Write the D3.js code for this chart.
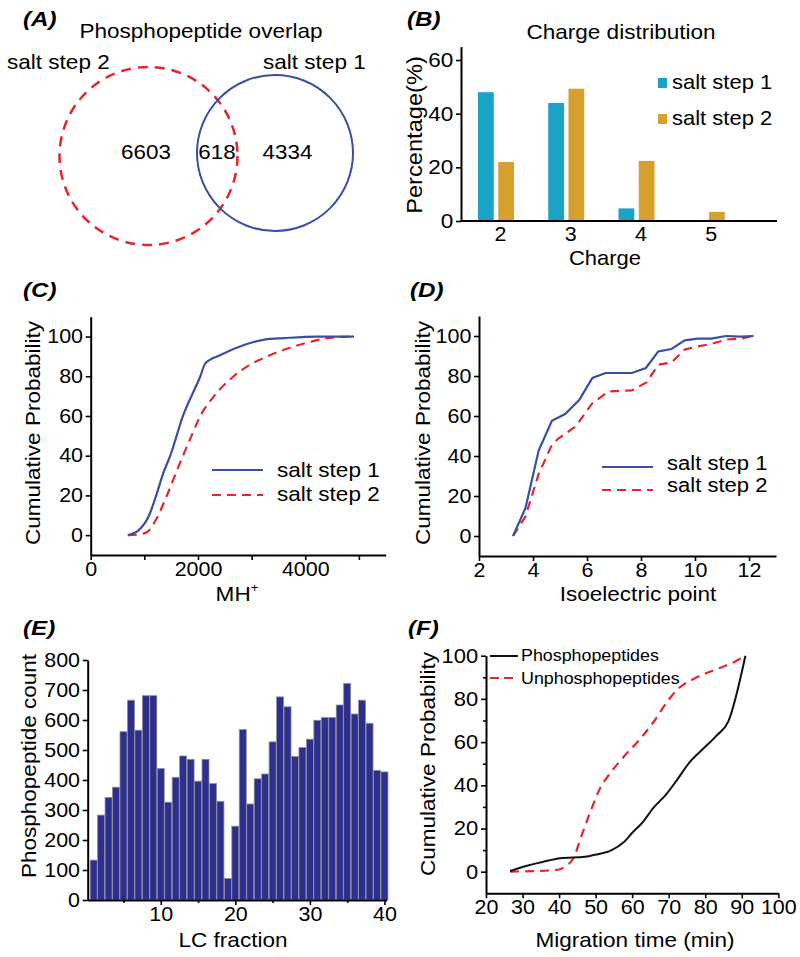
<!DOCTYPE html>
<html>
<head>
<meta charset="utf-8">
<script src="https://cdn.jsdelivr.net/npm/d3@7"></script>
<style>
  html, body { margin: 0; padding: 0; background: #fff; }
  svg { display: block; }
  text { font-family: "Liberation Sans", Arial, sans-serif; fill: #000; }
</style>
</head>
<body>
<svg id="chart" width="800" height="957"></svg>
<script>
// ---------- DATA ----------
// (A) Venn
const vennSets = ["salt step 2", "salt step 1"];
const vennCounts = [6603, 618, 4334];   // only step 2, overlap, only step 1

// (B) Charge distribution
const charges = ["2", "3", "4", "5"];
const chargeStep1 = [48, 44, 4.7, 0];
const chargeStep2 = [22, 49.3, 22.4, 3.4];
const chargeSeries = ["salt step 1", "salt step 2"];
const chargeYTicks = [0, 20, 40, 60];

// (C) MH+ cumulative
const mhX1 = [692, 891, 1090, 1221, 1350, 1483, 1720, 2044, 2137, 2400, 2885, 3240, 3600, 4220, 4910];
const mhY1 = [0, 2.4, 10, 20, 31, 40, 60, 80, 86.5, 90.5, 96, 98.5, 99.2, 100, 100];
const mhX2 = [692, 860, 1047, 1200, 1421, 1570, 1720, 1880, 2044, 2300, 2667, 2950, 3290, 3913, 4536, 4910];
const mhY2 = [0, 0.2, 1.5, 7, 20, 30, 40, 50, 60, 70, 80, 85.5, 90, 96, 99.6, 100];
const mhXTicks = [0, 1000, 2000, 3000, 4000, 5000];
const probTicks = [0, 20, 40, 60, 80, 100];

// (D) Isoelectric point cumulative
const piX1 = [3.26, 3.72, 4.21, 4.70, 5.19, 5.71, 6.20, 6.69, 7.66, 8.18, 8.64, 9.13, 9.62, 10.1, 10.6, 11.15, 11.7, 12.17];
const piY1 = [0, 13.9, 42.7, 57.6, 61, 68, 79, 81.5, 81.5, 84, 92.3, 93.5, 97.8, 98.7, 98.7, 100, 99.7, 100];
const piX2 = [3.26, 3.72, 4.21, 4.67, 4.91, 5.58, 6.2, 6.8, 7.66, 8.2, 8.64, 9.13, 9.62, 10.1, 10.6, 11.15, 11.7, 12.17];
const piY2 = [0, 9.7, 31, 44.7, 48.4, 54.8, 66.4, 72.3, 72.8, 76.8, 85.6, 86.8, 93.2, 94.8, 96, 98.2, 98.7, 100];
const piXTicks = [2, 4, 6, 8, 10, 12];

// (E) LC fraction
const lcFraction = [1,2,3,4,5,6,7,8,9,10,11,12,13,14,15,16,17,18,19,20,21,22,23,24,25,26,27,28,29,30,31,32,33,34,35,36,37,38,39,40];
const lcCount = [133,283,342,376,561,666,566,681,681,438,326,409,480,469,396,469,388,329,72,246,568,320,404,420,527,677,644,478,508,536,599,608,608,650,722,620,666,589,432,427];
const lcXTicks = [5, 10, 15, 20, 25, 30, 35, 40];
const lcYTicks = [0, 100, 200, 300, 400, 500, 600, 700, 800];

// (F) Migration time cumulative
const mtX1 = [26.6, 30.2, 35.7, 40.3, 47.1, 50.3, 54.4, 57.6, 60.3, 62.6, 65.8, 69.5, 72.2, 75.8, 79.5, 83.1, 86.3, 91];
const mtY1 = [0.3, 2.3, 4.6, 6.2, 6.9, 8, 10, 13.5, 18.5, 22.3, 29.5, 36.2, 42.3, 50.8, 57, 63, 69.5, 100];
const mtX2 = [26.6, 33, 39.3, 41.6, 43.9, 46.2, 48.9, 51.2, 53.9, 57.6, 62.2, 65.8, 69.5, 73.1, 76.8, 83.1, 87.7, 91];
const mtY2 = [0, 0.3, 0.8, 2.3, 6.2, 16.9, 29.2, 38.5, 45.4, 53, 61.5, 69.2, 78.5, 85.4, 89.2, 93.8, 96.9, 100];
const mtSeries = ["Phosphopeptides", "Unphosphopeptides"];
const mtXTicks = [20, 30, 40, 50, 60, 70, 80, 90, 100];
const mtYTicks = [0, 10, 20, 30, 40, 50, 60, 70, 80, 90, 100];

// ---------- STYLE ----------
const BLUE = "#3a4ea3", RED = "#e3262d", CYAN = "#18a3c7", GOLD = "#d5a12c", NAVY = "#2d2f8e";
const FONT = 20.5, TICKF = 19.5, SX = 1.1;
const svg = d3.select("#chart");

function styleAxis(g, fs) {
  g.select(".domain").attr("stroke", "#000").attr("stroke-width", 2);
  g.selectAll(".tick line").attr("stroke", "#000").attr("stroke-width", 1.6);
  g.selectAll(".tick text").attr("font-size", fs || TICKF).attr("transform", `scale(${SX},1)`)
    .attr("font-family", '"Liberation Sans", Arial, sans-serif').attr("fill", "#000");
}
function panelLabel(x, y, t) {
  svg.append("text").attr("transform", `translate(${x},${y}) scale(1.15,1)`).attr("font-size", 21)
    .attr("font-weight", "bold").attr("font-style", "italic").text(t);
}
function text(x, y, t, opts = {}) {
  const sx = opts.sx || SX;
  const el = svg.append("text")
    .attr("transform", `translate(${x},${y})` + (opts.rotate ? " rotate(-90)" : "") + ` scale(${sx},1)`)
    .attr("font-size", opts.size || FONT).attr("text-anchor", opts.anchor || "middle").text(t);
  if (opts.fill) el.attr("fill", opts.fill);
  return el;
}
function zip(xs, ys) { return xs.map((x, i) => [x, ys[i]]); }

// ---------- (A) Venn ----------
panelLabel(23, 26, "(A)");
text(201, 38, "Phosphopeptide overlap");
svg.append("circle").attr("cx", 148.5).attr("cy", 156).attr("r", 89)
  .attr("fill", "none").attr("stroke", RED).attr("stroke-width", 2.5).attr("stroke-dasharray", "10,7");
svg.append("circle").attr("cx", 275).attr("cy", 153).attr("r", 78)
  .attr("fill", "none").attr("stroke", BLUE).attr("stroke-width", 2);
text(7, 69, vennSets[0], { anchor: "start" });
text(263, 69, vennSets[1], { anchor: "start" });
const vennPos = [146, 217, 287.5];
vennCounts.forEach((c, i) => text(vennPos[i], 159, c, { size: 20, sx: 1.12 }));

// ---------- (B) Charge distribution ----------
panelLabel(407, 26, "(B)");
text(621, 39, "Charge distribution");
{
  const x0 = d3.scaleBand().domain(charges).range([461, 742]);
  const x1 = d3.scaleBand().domain(chargeSeries).range([17, 53]).paddingInner(0.22);
  const y = d3.scaleLinear().domain([0, 65]).range([221, 46.6]);
  const vals = [chargeStep1, chargeStep2];
  const cols = [CYAN, GOLD];
  chargeSeries.forEach((s, si) => {
    svg.append("g").selectAll("rect").data(charges).join("rect")
      .attr("x", (d) => x0(d) + x1(s))
      .attr("width", x1.bandwidth())
      .attr("y", (d, i) => y(vals[si][i]))
      .attr("height", (d, i) => y(0) - y(vals[si][i]))
      .attr("fill", cols[si]);
  });
  const ya = svg.append("g").attr("transform", "translate(461,0)")
    .call(d3.axisLeft(y).tickValues(chargeYTicks).tickSize(5).tickSizeOuter(0).tickPadding(2));
  styleAxis(ya, 20.5);
  const xa = svg.append("g").attr("transform", "translate(0,221)")
    .call(d3.axisBottom(x0).tickSize(0).tickSizeOuter(0).tickPadding(6));
  styleAxis(xa, 19.5);
  xa.selectAll(".tick text").attr("dx", 4);
  xa.select(".domain").attr("d", "M461,0H777");
  text(605, 265, "Charge", { size: 20 });
  text(414, 135, "Percentage(%)", { rotate: true, size: 21.5 }).attr("dy", 8);
  // legend
  chargeSeries.forEach((s, i) => {
    const ly = [83, 119][i];
    svg.append("rect").attr("x", 658).attr("y", ly - 5).attr("width", 9).attr("height", 10).attr("fill", cols[i]);
    text(672, ly + 6, s, { anchor: "start", fill: "#555", size: 20, sx: 1.1 });
  });
}

// ---------- (C) MH+ ----------
panelLabel(23, 297, "(C)");
{
  const x = d3.scaleLinear().domain([0, 5500]).range([90.7, 385.7]);
  const y = d3.scaleLinear().domain([-10, 110]).range([555, 316.7]);
  const line = d3.line().x((d) => x(d[0])).y((d) => y(d[1])).curve(d3.curveMonotoneX);
  svg.append("path").datum(zip(mhX2, mhY2)).attr("d", line).attr("fill", "none")
    .attr("stroke", RED).attr("stroke-width", 2.2).attr("stroke-dasharray", "9,6");
  svg.append("path").datum(zip(mhX1, mhY1)).attr("d", line).attr("fill", "none")
    .attr("stroke", BLUE).attr("stroke-width", 2.2);
  const ya = svg.append("g").attr("transform", "translate(90.7,0)")
    .call(d3.axisLeft(y).tickValues(probTicks).tickSize(5).tickSizeOuter(0).tickPadding(2));
  styleAxis(ya);
  const xa = svg.append("g").attr("transform", "translate(0,555)")
    .call(d3.axisBottom(x).tickValues(mhXTicks).tickFormat((d) => (d % 2000 === 0 ? d : ""))
      .tickSize(5).tickSizeOuter(0).tickPadding(2));
  styleAxis(xa);
  const lab = text(237, 601, "MH");
  lab.append("tspan").attr("font-size", 12).attr("dy", -9).text("+");
  text(33, 433, "Cumulative Probability", { rotate: true }).attr("dy", 7);
  // legend
  svg.append("line").attr("x1", 212).attr("x2", 263).attr("y1", 470).attr("y2", 470)
    .attr("stroke", BLUE).attr("stroke-width", 2.2);
  svg.append("line").attr("x1", 212).attr("x2", 263).attr("y1", 495).attr("y2", 495)
    .attr("stroke", RED).attr("stroke-width", 2.2).attr("stroke-dasharray", "9,6");
  text(277, 477, "salt step 1", { anchor: "start" });
  text(277, 501, "salt step 2", { anchor: "start" });
}

// ---------- (D) Isoelectric point ----------
panelLabel(410, 297, "(D)");
{
  const x = d3.scaleLinear().domain([2, 13]).range([479, 776]);
  const y = d3.scaleLinear().domain([-10, 110]).range([556, 316]);
  const line = d3.line().x((d) => x(d[0])).y((d) => y(d[1]));
  svg.append("path").datum(zip(piX2, piY2)).attr("d", line).attr("fill", "none")
    .attr("stroke", RED).attr("stroke-width", 2.2).attr("stroke-dasharray", "9,6");
  svg.append("path").datum(zip(piX1, piY1)).attr("d", line).attr("fill", "none")
    .attr("stroke", BLUE).attr("stroke-width", 2.2);
  const ya = svg.append("g").attr("transform", "translate(479,0)")
    .call(d3.axisLeft(y).tickValues(probTicks).tickSize(5).tickSizeOuter(0).tickPadding(2));
  styleAxis(ya);
  const xa = svg.append("g").attr("transform", "translate(0,556)")
    .call(d3.axisBottom(x).tickValues(piXTicks).tickSize(5).tickSizeOuter(0).tickPadding(2));
  styleAxis(xa);
  text(638, 601, "Isoelectric point");
  text(423, 433, "Cumulative Probability", { rotate: true }).attr("dy", 7);
  svg.append("line").attr("x1", 602).attr("x2", 653).attr("y1", 467).attr("y2", 467)
    .attr("stroke", BLUE).attr("stroke-width", 2.2);
  svg.append("line").attr("x1", 602).attr("x2", 653).attr("y1", 490).attr("y2", 490)
    .attr("stroke", RED).attr("stroke-width", 2.2).attr("stroke-dasharray", "9,6");
  text(667, 470, "salt step 1", { anchor: "start", size: 19.5, sx: 1.13 });
  text(667, 492, "salt step 2", { anchor: "start", size: 19.5, sx: 1.13 });
}

// ---------- (E) LC fraction ----------
panelLabel(23, 635, "(E)");
{
  const x = d3.scaleLinear().domain([0.2, 40.3]).range([87.7, 386.7]);
  const y = d3.scaleLinear().domain([0, 800]).range([900, 660]);
  const bw = 7.0;
  svg.append("g").selectAll("rect").data(lcFraction).join("rect")
    .attr("x", (d) => x(d) - bw / 2)
    .attr("width", bw)
    .attr("y", (d, i) => y(lcCount[i]))
    .attr("height", (d, i) => y(0) - y(lcCount[i]))
    .attr("fill", NAVY).attr("stroke", "#8d8d9a").attr("stroke-width", 0.8);
  const ya = svg.append("g").attr("transform", "translate(87.7,0)")
    .call(d3.axisLeft(y).tickValues(lcYTicks).tickSize(5).tickSizeOuter(0).tickPadding(2));
  styleAxis(ya);
  const xa = svg.append("g").attr("transform", "translate(0,900)")
    .call(d3.axisBottom(x).tickValues(lcXTicks).tickFormat((d) => (d % 10 === 0 ? d : ""))
      .tickSize(5).tickSizeOuter(0).tickPadding(2));
  styleAxis(xa);
  xa.selectAll(".tick line").attr("y2", (d) => (d % 10 === 0 ? 5 : 3));
  text(233, 947, "LC fraction");
  text(29, 766, "Phosphopeptide count", { rotate: true }).attr("dy", 7);
}

// ---------- (F) Migration time ----------
panelLabel(408, 635, "(F)");
{
  const x = d3.scaleLinear().domain([20, 100]).range([486, 778.3]);
  const y = d3.scaleLinear().domain([-10, 100]).range([893.3, 655.7]);
  const line = d3.line().x((d) => x(d[0])).y((d) => y(d[1])).curve(d3.curveMonotoneX);
  svg.append("path").datum(zip(mtX2, mtY2)).attr("d", line).attr("fill", "none")
    .attr("stroke", RED).attr("stroke-width", 2.2).attr("stroke-dasharray", "9,6");
  svg.append("path").datum(zip(mtX1, mtY1)).attr("d", line).attr("fill", "none")
    .attr("stroke", "#111").attr("stroke-width", 2);
  const ya = svg.append("g").attr("transform", "translate(486,0)")
    .call(d3.axisLeft(y).tickValues(mtYTicks).tickFormat((d) => (d % 20 === 0 ? d : ""))
      .tickSize(5).tickSizeOuter(0).tickPadding(2));
  styleAxis(ya, 20);
  ya.selectAll(".tick line").attr("x2", (d) => (d % 20 === 0 ? -5 : -3));
  const xa = svg.append("g").attr("transform", "translate(0,893.3)")
    .call(d3.axisBottom(x).tickValues(mtXTicks).tickSize(5).tickSizeOuter(0).tickPadding(2));
  styleAxis(xa);
  text(635, 947, "Migration time (min)");
  text(428, 764, "Cumulative Probability", { rotate: true }).attr("dy", 7);
  svg.append("line").attr("x1", 490).attr("x2", 518).attr("y1", 656).attr("y2", 656)
    .attr("stroke", "#111").attr("stroke-width", 2);
  svg.append("line").attr("x1", 490).attr("x2", 518).attr("y1", 678).attr("y2", 678)
    .attr("stroke", RED).attr("stroke-width", 2.2).attr("stroke-dasharray", "9,5");
  text(521, 661, mtSeries[0], { anchor: "start", size: 17, sx: 1.05 });
  text(521, 684, mtSeries[1], { anchor: "start", size: 17, sx: 1.05 });
}
</script>
</body>
</html>
